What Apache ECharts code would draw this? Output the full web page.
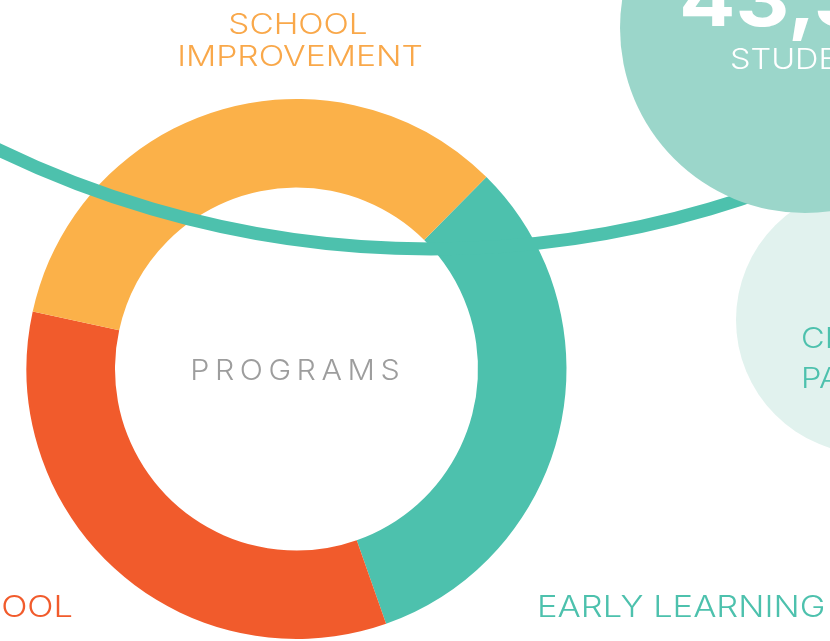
<!DOCTYPE html>
<html>
<head>
<meta charset="utf-8">
<script src="https://cdn.jsdelivr.net/npm/echarts@6/dist/echarts.min.js"></script>
<style>
html,body{margin:0;padding:0;background:#fff;}
#chart{width:830px;height:641px;}
</style>
</head>
<body>
<div id="chart"></div>
<script>
// Program categories (clockwise from the upper right)
const categories = ['EARLY LEARNING', 'AFTER SCHOOL', 'SCHOOL\nIMPROVEMENT'];
// Share of the ring for each program (percent)
const values = [32.2, 33.8, 34.0];
const colors = ['#4dc1ad', '#f15b2c', '#fbb149'];
const centerTitle = 'PROGRAMS';
const bigNumber = '43,375';
const bigNumberCaption = 'STUDENTS';
const sideCaption = ['CHILDREN', 'PARENTS'];

const chart = echarts.init(document.getElementById('chart'), null, {renderer: 'canvas'});
const FONT = 'Inter, "Noto Sans", sans-serif';
const spaced = s => s.split('').join('\u2009');

function label(text, x, y, color, size, align, sx, weight, z) {
  return {
    type: 'text', x: x, y: y, z: z || 40, scaleX: sx || 1, silent: true,
    style: {
      text: text, x: 0, y: 0, fill: color,
      fontSize: size, fontFamily: FONT, fontWeight: weight || 300,
      textAlign: align, textVerticalAlign: 'middle'
    }
  };
}

const schoolLines = categories[2].split('\n');

chart.setOption({
  backgroundColor: '#ffffff',
  animation: false,
  series: [{
    type: 'pie',
    center: [296.5, 369],
    radius: [181.5, 270],
    startAngle: 45.3,
    clockwise: true,
    silent: true,
    label: {show: false},
    labelLine: {show: false},
    itemStyle: {borderWidth: 0},
    emphasis: {disabled: true},
    data: categories.map((c, i) => ({name: c, value: values[i], itemStyle: {color: colors[i]}}))
  }],
  graphic: {
    elements: [
      {
        type: 'arc', z: 10, silent: true,
        shape: {cx: 431, cy: -743, r: 992, startAngle: 58 * Math.PI / 180, endAngle: 122 * Math.PI / 180, clockwise: true},
        style: {stroke: '#4dc1ad', lineWidth: 13, fill: 'none'}
      },
      {type: 'circle', z: 20, silent: true, shape: {cx: 870, cy: 320, r: 134}, style: {fill: '#e1f2ee'}},
      {type: 'circle', z: 21, silent: true, shape: {cx: 805, cy: 28, r: 185}, style: {fill: '#9bd6ca'}},
      label(bigNumber, 679, 3, '#ffffff', 76, 'left', 1.1, 700, 30),
      label(bigNumberCaption, 730, 60, '#ffffff', 29, 'left', 1.12, 300, 30),
      label(sideCaption[0], 801, 339, '#4dc1ad', 29, 'left', 1.12, 300, 30),
      label(sideCaption[1], 801, 379, '#4dc1ad', 29, 'left', 1.12, 300, 30),
      label(schoolLines[0], 298, 26, '#f9a84a', 28, 'center', 1.19),
      label(schoolLines[1], 300, 58, '#f9a84a', 28, 'center', 1.2),
      label(spaced(centerTitle), 295, 371, '#9d9d9d', 29, 'center', 1.05),
      label(categories[0], 537, 608, '#4dc1ad', 30, 'left', 1.15),
      label(categories[1], 73, 608, '#f15b2c', 30, 'right', 1.15)
    ]
  }
});
</script>
</body>
</html>
